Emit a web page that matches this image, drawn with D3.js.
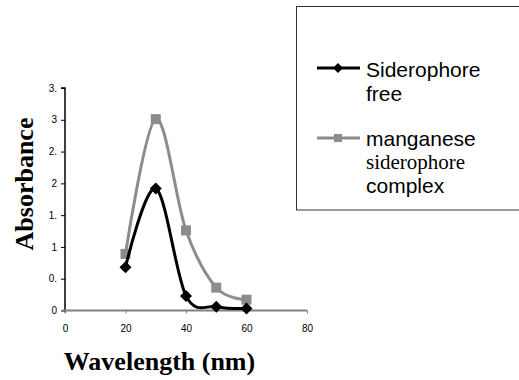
<!DOCTYPE html>
<html>
<head>
<meta charset="utf-8">
<script src="https://cdn.jsdelivr.net/npm/d3@7"></script>
<style>
  body { margin: 0; background: #fff; }
  svg { display: block; }
</style>
</head>
<body>
<div id="chart"></div>
<script>
// data
var wavelength = [20, 30, 40, 50, 60];
var freeAbs = [0.68, 1.92, 0.23, 0.06, 0.03];
var complexAbs = [0.89, 3.01, 1.26, 0.36, 0.17];
var xTicks = [0, 20, 40, 60, 80];
var yTicks = [0, 0.5, 1, 1.5, 2, 2.5, 3, 3.5];
var yTickLabels = ["0", "0.", "1", "1.", "2", "2.", "3", "3."];
var seriesNames = ["Siderophore free", "manganese siderophore complex"];

var svgWidth = 519;
var svgHeight = 380;

var svg = d3.select("#chart")
  .append("svg")
  .attr("width", svgWidth)
  .attr("height", svgHeight);

// scales
var x = d3.scaleLinear().domain([0, 80]).range([65, 307]);
var y = d3.scaleLinear().domain([0, 3.5]).range([310.5, 88]);

// y axis (black)
var yAxis = svg.append("g")
  .attr("transform", "translate(65,0)")
  .call(d3.axisLeft(y).tickValues(yTicks).tickSize(4).tickPadding(4)
    .tickFormat((d, i) => yTickLabels[i]));
yAxis.select(".domain").attr("stroke", "#000").attr("stroke-width", 1.5)
  .attr("d", "M-4," + y(3.5) + "H0V" + (y(0) + 2));
yAxis.selectAll(".tick line").attr("stroke", "#000");
yAxis.selectAll("text").attr("font-family", "Arial, 'Liberation Sans', sans-serif")
  .attr("font-size", 10).attr("fill", "#000");

// x axis (gray line)
var xAxis = svg.append("g")
  .attr("transform", "translate(0," + y(0) + ")")
  .call(d3.axisBottom(x).tickValues(xTicks).tickSize(3).tickPadding(11));
xAxis.select(".domain").attr("stroke", "#808080").attr("stroke-width", 2)
  .attr("d", "M62,0H" + x(80));
xAxis.selectAll(".tick line").attr("stroke", "#808080");
xAxis.selectAll("text").attr("font-family", "Arial, 'Liberation Sans', sans-serif")
  .attr("font-size", 10).attr("fill", "#000");

// smoothed lines
var line = d3.line()
  .x(d => x(d[0]))
  .y(d => y(d[1]))
  .curve(d3.curveCardinal.tension(0));

var complexPts = wavelength.map((w, i) => [w, complexAbs[i]]);
var freePts = wavelength.map((w, i) => [w, freeAbs[i]]);

svg.append("path")
  .attr("d", line(complexPts))
  .attr("fill", "none")
  .attr("stroke", "#8c8c8c")
  .attr("stroke-width", 3);

svg.selectAll(".sq")
  .data(complexPts)
  .enter()
  .append("rect")
  .attr("x", d => x(d[0]) - 5)
  .attr("y", d => y(d[1]) - 5)
  .attr("width", 10)
  .attr("height", 10)
  .attr("fill", "#8c8c8c");

svg.append("path")
  .attr("d", line(freePts))
  .attr("fill", "none")
  .attr("stroke", "#000")
  .attr("stroke-width", 3);

var diamond = "M0,-6L6,0L0,6L-6,0Z";
svg.selectAll(".dm")
  .data(freePts)
  .enter()
  .append("path")
  .attr("d", diamond)
  .attr("transform", d => "translate(" + x(d[0]) + "," + y(d[1]) + ")")
  .attr("fill", "#000");

// axis titles
svg.append("text")
  .attr("transform", "translate(33,184) rotate(-90)")
  .attr("text-anchor", "middle")
  .attr("font-family", "'Times New Roman', 'Liberation Serif', serif")
  .attr("font-weight", "bold")
  .attr("font-size", 26)
  .text("Absorbance");

svg.append("text")
  .attr("x", 159.5)
  .attr("y", 370)
  .attr("text-anchor", "middle")
  .attr("font-family", "'Times New Roman', 'Liberation Serif', serif")
  .attr("font-weight", "bold")
  .attr("font-size", 26)
  .text("Wavelength (nm)");

// legend (box runs off the right edge)
var legend = svg.append("g");
legend.append("rect")
  .attr("x", 296.5)
  .attr("y", 6.5)
  .attr("width", 240)
  .attr("height", 203.5)
  .attr("fill", "#fff")
  .attr("stroke", "#333")
  .attr("stroke-width", 1);

legend.append("line")
  .attr("x1", 317).attr("x2", 360).attr("y1", 68).attr("y2", 68)
  .attr("stroke", "#000").attr("stroke-width", 3);
legend.append("path")
  .attr("d", "M0,-5L5,0L0,5L-5,0Z")
  .attr("transform", "translate(338,68)")
  .attr("fill", "#000");

legend.append("line")
  .attr("x1", 317).attr("x2", 360).attr("y1", 138).attr("y2", 138)
  .attr("stroke", "#8c8c8c").attr("stroke-width", 3);
legend.append("rect")
  .attr("x", 334).attr("y", 134).attr("width", 8).attr("height", 8)
  .attr("fill", "#8c8c8c");

var sans = "Arial, 'Liberation Sans', sans-serif";
var serif = "'Times New Roman', 'Liberation Serif', serif";
var legendLines = [
  { t: seriesNames[0].split(" ")[0], y: 77, f: sans },
  { t: seriesNames[0].split(" ")[1], y: 101, f: sans },
  { t: seriesNames[1].split(" ")[0], y: 146, f: sans },
  { t: seriesNames[1].split(" ")[1], y: 169, f: serif },
  { t: seriesNames[1].split(" ")[2], y: 193, f: sans }
];
legend.selectAll(".lt")
  .data(legendLines)
  .enter()
  .append("text")
  .attr("x", 366)
  .attr("y", d => d.y)
  .attr("font-family", d => d.f)
  .attr("font-size", 21)
  .attr("fill", "#000")
  .text(d => d.t);
</script>
</body>
</html>
